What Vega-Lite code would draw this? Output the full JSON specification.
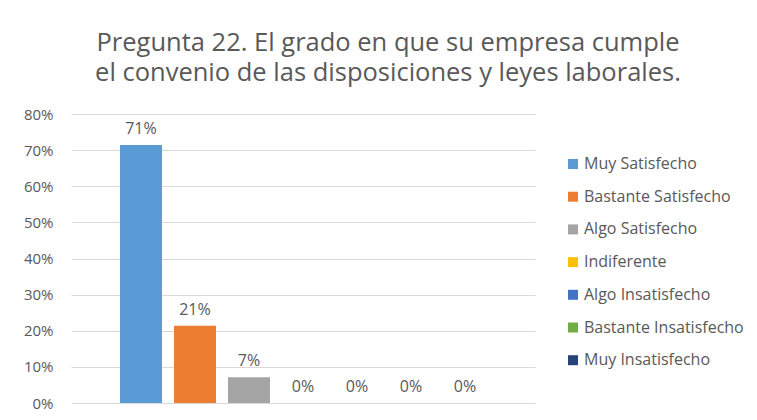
{
  "$schema": "https://vega.github.io/schema/vega-lite/v6.json",
  "autosize": {"type": "none"},
  "width": 464,
  "height": 289,
  "padding": {"left": 71, "top": 114, "right": 222, "bottom": 17},
  "background": "white",
  "title": {
    "text": ["Pregunta 22. El grado en que su empresa cumple", "el convenio de las disposiciones y leyes laborales."],
    "font": "Open Sans",
    "fontSize": 25.5,
    "fontWeight": "normal",
    "color": "#595959",
    "lineHeight": 30,
    "anchor": "middle",
    "frame": "group",
    "dx": 85,
    "offset": 21
  },
  "data": {
    "values": [
      {"categoria": "Muy Satisfecho", "valor": 0.714, "etiqueta": "71%"},
      {"categoria": "Bastante Satisfecho", "valor": 0.214, "etiqueta": "21%"},
      {"categoria": "Algo Satisfecho", "valor": 0.071, "etiqueta": "7%"},
      {"categoria": "Indiferente", "valor": 0, "etiqueta": "0%"},
      {"categoria": "Algo Insatisfecho", "valor": 0, "etiqueta": "0%"},
      {"categoria": "Bastante Insatisfecho", "valor": 0, "etiqueta": "0%"},
      {"categoria": "Muy Insatisfecho", "valor": 0, "etiqueta": "0%"}
    ]
  },
  "encoding": {
    "x": {
      "field": "categoria",
      "type": "nominal",
      "sort": null,
      "axis": null,
      "scale": {"paddingInner": 0.2222, "paddingOuter": 0.907}
    },
    "y": {
      "field": "valor",
      "type": "quantitative",
      "scale": {"domain": [0, 0.8], "nice": false},
      "axis": {
        "title": null,
        "format": ".0%",
        "values": [0, 0.1, 0.2, 0.3, 0.4, 0.5, 0.6, 0.7, 0.8],
        "domain": false,
        "ticks": false,
        "labelPadding": 18,
        "labelFont": "Open Sans",
        "labelFontSize": 15,
        "labelColor": "#595959",
        "gridColor": "#d9d9d9",
        "gridWidth": 1
      }
    }
  },
  "layer": [
    {
      "mark": {"type": "bar"},
      "encoding": {
        "color": {
          "field": "categoria",
          "type": "nominal",
          "sort": null,
          "scale": {
            "domain": ["Muy Satisfecho", "Bastante Satisfecho", "Algo Satisfecho", "Indiferente", "Algo Insatisfecho", "Bastante Insatisfecho", "Muy Insatisfecho"],
            "range": ["#5B9BD5", "#ED7D31", "#A5A5A5", "#FFC000", "#4472C4", "#70AD47", "#264478"]
          },
          "legend": {
            "title": null,
            "orient": "none",
            "legendX": 494,
            "legendY": 42,
            "symbolType": "square",
            "symbolSize": 100,
            "symbolStrokeWidth": 0,
            "labelFont": "Open Sans",
            "labelFontSize": 16,
            "labelColor": "#595959",
            "labelOffset": 3,
            "rowPadding": 16.7,
            "labelLimit": 300
          }
        }
      }
    },
    {
      "mark": {"type": "text", "baseline": "bottom", "dy": -8, "font": "Open Sans", "fontSize": 16, "color": "#595959"},
      "encoding": {"text": {"field": "etiqueta"}}
    }
  ],
  "config": {"view": {"stroke": null}}
}
